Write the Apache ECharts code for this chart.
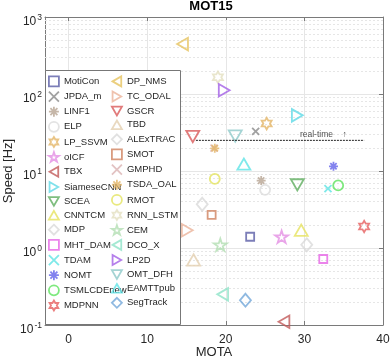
<!DOCTYPE html>
<html>
<head>
<meta charset="utf-8">
<script src="https://cdn.jsdelivr.net/npm/echarts@6/dist/echarts.min.js"></script>
<style>
html, body { margin: 0; padding: 0; background: #fff; }
#main { width: 390px; height: 360px; }
</style>
</head>
<body>
<div id="main"></div>
<script>
// 方法名 (legend column 1 then column 2)
var methods = ['MotiCon', 'JPDA_m', 'LINF1', 'ELP', 'LP_SSVM', 'oICF', 'TBX', 'SiameseCNN',
    'SCEA', 'CNNTCM', 'MDP', 'MHT_DAM', 'TDAM', 'NOMT', 'TSMLCDEnew', 'MDPNN',
    'DP_NMS', 'TC_ODAL', 'GSCR', 'TBD', 'ALExTRAC', 'SMOT', 'GMPHD', 'TSDA_OAL',
    'RMOT', 'RNN_LSTM', 'CEM', 'DCO_X', 'LP2D', 'OMT_DFH', 'EAMTTpub', 'SegTrack'];
var mota = [23.1, 23.8, 24.5, 25.0, 25.2, 27.1, 27.4, 29.1,
    29.1, 29.6, 30.3, 32.4, 33.0, 33.7, 34.3, 37.6,
    14.5, 15.1, 15.8, 15.9, 17.0, 18.2, 18.5, 18.6,
    18.6, 19.0, 19.3, 19.6, 19.8, 21.2, 22.3, 22.5];
var speed = [1.4, 32.6, 7.5, 5.7, 41.3, 1.4, 0.11, 52.8,
    6.6, 1.7, 1.1, 0.72, 5.9, 11.5, 6.5, 1.9,
    445, 1.7, 28.1, 0.7, 3.7, 2.7, 19.8, 19.7,
    7.9, 165, 1.1, 0.25, 112, 28.4, 12.3, 0.21];
var realTime = 25; // Hz
var realTimeSpan = [16.2, 37.6];
var xTickLabels = ['0', '10', '20', '30', '40'];

// styles
var colors = ['#5b5ea6', '#8a8a8a', '#b8a593', '#dcdcdc', '#e3b567', '#e48fe4', '#c25a5a', '#5fd9e6',
    '#5fae5f', '#e6e25f', '#d9d9d9', '#e665e6', '#5fe3e3', '#6464ea', '#5fe35f', '#e65f5f',
    '#e6c35f', '#ebb39a', '#d95a5a', '#e3d0b0', '#d9d9d9', '#d0825f', '#dbb3b3', '#e3b567',
    '#e3e35f', '#e3e0c0', '#b3deb3', '#8fe3c8', '#a25fe6', '#8fc9c9', '#5fe3e6', '#73a8d9'];
var markers = ['sq', 'x', 'ast', 'circ', 'hex', 'pent', 'left', 'right',
    'down', 'up', 'dia', 'sq', 'x', 'ast', 'circ', 'hex',
    'left', 'right', 'down', 'up', 'dia', 'sq', 'x', 'ast',
    'circ', 'hex', 'pent', 'left', 'right', 'down', 'up', 'dia'];

var symbolOf = {
    sq: 'rect',
    circ: 'circle',
    dia: 'diamond',
    x: 'path://M0,0L10,10M10,0L0,10',
    ast: 'path://M5,0L5,10M0,5L10,5M1.5,1.5L8.5,8.5M8.5,1.5L1.5,8.5',
    hex: 'path://M5,0L6.44,2.5L9.33,2.5L7.89,5L9.33,7.5L6.44,7.5L5,10L3.56,7.5L0.67,7.5L2.11,5L0.67,2.5L3.56,2.5Z',
    pent: 'path://M5,0L6.12,3.46L9.76,3.46L6.82,5.59L7.94,9.05L5,6.91L2.06,9.05L3.18,5.59L0.24,3.46L3.88,3.46Z',
    up: 'path://M5,0L10,8.66L0,8.66Z',
    down: 'path://M0,0L10,0L5,8.66Z',
    left: 'path://M0,5L8.66,0L8.66,10Z',
    right: 'path://M0,0L8.66,5L0,10Z'
};
var sizeOf = { sq: 8, circ: 10, dia: [11, 13], x: 7, ast: 9, hex: 11.5, pent: 13, up: 13, down: 13, left: 12.5, right: 12.5 };

var font = 'Liberation Sans, Arial, Helvetica, sans-serif';
var textColor = '#262626';
var axisColor = '#7a7a7a';

function makeSeries(i) {
    var m = markers[i];
    return {
        name: methods[i],
        type: 'scatter',
        data: [[mota[i], speed[i]]],
        symbol: symbolOf[m],
        symbolSize: sizeOf[m],
        symbolKeepAspect: true,
        itemStyle: { color: 'rgba(0,0,0,0)', borderColor: colors[i], borderWidth: 1.8 },
        emphasis: { disabled: true },
        silent: true
    };
}

// 对数次网格线
var minorLines = [];
for (var k = -1; k < 3; k++) {
    for (var m = 2; m < 10; m++) {
        minorLines.push({ yAxis: m * Math.pow(10, k) });
    }
}

var series = [{
    name: 'minor',
    type: 'line',
    data: [],
    silent: true,
    markLine: {
        silent: true,
        z: 1,
        symbol: 'none',
        label: { show: false },
        lineStyle: { color: '#e6e6e6', width: 1, type: [2, 2] },
        data: minorLines
    }
}, {
    name: 'realtime',
    type: 'line',
    data: [[realTimeSpan[0], realTime], [realTimeSpan[1], realTime]],
    symbol: 'none',
    silent: true,
    lineStyle: { color: '#222', width: 1, type: [2, 1] }
}, {
    name: 'realtimeText',
    type: 'scatter',
    data: [[32.4, realTime]],
    symbolSize: 1,
    silent: true,
    itemStyle: { color: 'rgba(0,0,0,0)' },
    label: {
        show: true, position: 'top', distance: 1,
        formatter: 'real-time    \u2191',
        fontSize: 8.5, color: '#222', fontFamily: font
    }
}];
// MATLAB 画图顺序: 按行交替
for (var r = 0; r < 16; r++) {
    series.push(makeSeries(r));
    series.push(makeSeries(r + 16));
}

function legendCol(names, left) {
    return {
        data: names,
        orient: 'vertical',
        left: left,
        top: 75.5,
        padding: 0,
        itemWidth: 10,
        itemHeight: 10,
        itemGap: 3.35,
        selectedMode: false,
        itemStyle: { borderWidth: 1.8 },
        textStyle: { fontSize: 9.5, color: textColor, fontFamily: font }
    };
}

var chart = echarts.init(document.getElementById('main'));
chart.setOption({
    animation: false,
    backgroundColor: '#fff',
    title: {
        text: 'MOT15', left: 211, top: 0, padding: 0, textAlign: 'center',
        textStyle: { fontSize: 13, fontWeight: 'bold', color: '#000', fontFamily: font }
    },
    grid: { left: 45, right: 7, top: 17, bottom: 35, outerBoundsMode: 'none' },
    legend: [legendCol(methods.slice(0, 16), 48), legendCol(methods.slice(16), 111)],
    graphic: [{
        type: 'rect',
        z: 3,
        shape: { x: 45.5, y: 70.5, width: 135, height: 254 },
        style: { fill: '#fff', stroke: '#777', lineWidth: 1 }
    }],
    xAxis: [{
        type: 'value', min: -3, max: 40,
        name: 'MOTA', nameLocation: 'middle', nameGap: 21, nameMoveOverlap: false,
        nameTextStyle: { fontSize: 13, color: textColor, fontFamily: font },
        axisLine: { show: true, onZero: false, lineStyle: { color: axisColor } },
        axisTick: { inside: true, length: 4, lineStyle: { color: axisColor } },
        axisLabel: {
            showMinLabel: false, margin: 9, fontSize: 12, color: textColor, fontFamily: font,
            formatter: function(v) { return xTickLabels.indexOf(String(v)) >= 0 ? String(v) : ''; }
        },
        splitLine: { show: true, lineStyle: { color: '#e6e6e6' } }
    }, {
        type: 'value', min: -3, max: 40, position: 'top',
        axisLine: { show: true, onZero: false, lineStyle: { color: axisColor } },
        axisTick: { inside: true, length: 4, lineStyle: { color: axisColor } },
        axisLabel: { show: false },
        splitLine: { show: false }
    }],
    yAxis: [{
        type: 'log', logBase: 10, min: 0.1, max: 1000,
        name: 'Speed [Hz]', nameLocation: 'middle', nameGap: 30, nameMoveOverlap: false,
        nameTextStyle: { fontSize: 13, color: textColor, fontFamily: font },
        axisLine: { show: true, onZero: false, lineStyle: { color: axisColor } },
        axisTick: { inside: true, length: 4, lineStyle: { color: axisColor } },
        axisLabel: {
            margin: 3,
            formatter: function(v) {
                return '{b|10}{s|' + Math.round(Math.log10(v)) + '}';
            },
            rich: {
                b: { fontSize: 12, color: textColor, fontFamily: font, padding: [10, 0, 0, 0] },
                s: { fontSize: 8.5, color: textColor, fontFamily: font, padding: [2, 0, 0, 1] }
            }
        },
        splitLine: { show: true, lineStyle: { color: '#e6e6e6' } }
    }, {
        type: 'log', logBase: 10, min: 0.1, max: 1000, position: 'right',
        axisLine: { show: true, onZero: false, lineStyle: { color: axisColor } },
        axisTick: { inside: true, length: 4, lineStyle: { color: axisColor } },
        axisLabel: { show: false },
        splitLine: { show: false }
    }],
    series: series
});
</script>
</body>
</html>
